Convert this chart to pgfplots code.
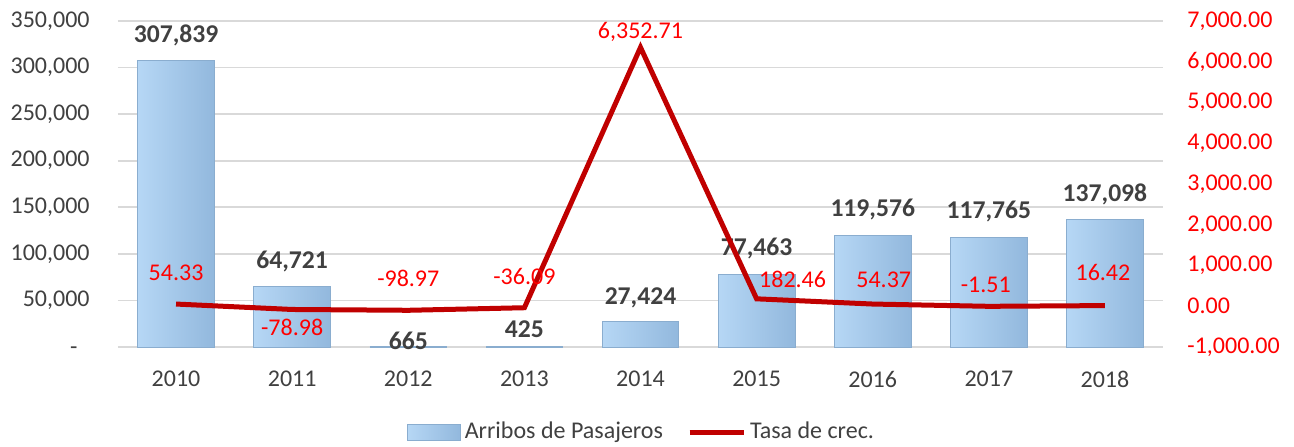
\documentclass[border=0pt]{standalone}
\usepackage{pgfplots}
\pgfplotsset{compat=1.18}
\usepackage{pgfplotstable}
\usepackage{fontspec}
\setmainfont{Carlito}
\definecolor{gridc}{HTML}{D9D9D9}
\definecolor{txt}{HTML}{404040}
\definecolor{linered}{HTML}{C00000}
\definecolor{labred}{HTML}{FF0000}
\definecolor{barL}{HTML}{B6D7F5}
\definecolor{barM}{HTML}{A9CDF0}
\definecolor{barR}{HTML}{92B8DD}
\definecolor{barE}{HTML}{8AADCF}
\pgfplotsset{/pgf/number format/assume math mode=true,
  mybar/.style={ybar, bar width=0.66, bar shift=0pt, left color=barL, middle color=barM, right color=barR,
    draw=barE, line width=0.4pt, forget plot,
    nodes near coords={\pgfmathprintnumber[fixed,precision=0,1000 sep={,}]{\pgfplotspointmeta}},
    every node near coord/.append style={anchor=center, yshift=#1, font=\fontsize{12.8pt}{15pt}\selectfont\bfseries, text=txt}},
}

\pgfplotstableread{
x val dx dy
0 54.33 0 15.5
1 -78.98 0 -8.75
2 -98.97 0 16
3 -36.09 0 15.5
4 6352.71 0 7.5
5 182.46 18 9.5
6 54.37 5.5 12
7 -1.51 -1.5 10.5
8 16.42 -1 16.5
}\rate

\begin{document}
\fontsize{12pt}{14.4pt}\selectfont
\begin{tikzpicture}
\path[use as bounding box] (-59pt,-49.5pt) rectangle (588pt,173.5pt);
\begin{axis}[
  at={(0,0)}, anchor=south west,
  scale only axis, width=522.5pt, height=163pt,
  xmin=-0.5, xmax=8.5, ymin=0, ymax=350000,
  scaled y ticks=false,
  axis line style={draw=none}, major tick length=0pt,
  ymajorgrids, grid style={gridc, line width=0.8pt},
  xtick={0,...,8}, xticklabels={2010,2011,2012,2013,2014,2015,2016,2017,2018},
  ytick={0,50000,100000,150000,200000,250000,300000,350000},
  yticklabels={-\phantom{0},{50,000},{100,000},{150,000},{200,000},{250,000},{300,000},{350,000}},
  yticklabel style={text=txt, xshift=-10pt},
  xticklabel style={text=txt, yshift=-8pt},
  clip=false,
]
\addplot[mybar=12.5pt] coordinates {(0,307839)};
\addplot[mybar=12.5pt] coordinates {(1,64721)};
\addplot[mybar=3pt] coordinates {(2,665)};
\addplot[mybar=8.5pt] coordinates {(3,425)};
\addplot[mybar=12pt] coordinates {(4,27424)};
\addplot[mybar=13pt] coordinates {(5,77463)};
\addplot[mybar=13pt] coordinates {(6,119576)};
\addplot[mybar=13pt] coordinates {(7,117765)};
\addplot[mybar=12.5pt] coordinates {(8,137098)};
\end{axis}
\begin{axis}[
  at={(0,0)}, anchor=south west,
  scale only axis, width=522.5pt, height=163pt,
  xmin=-0.5, xmax=8.5, ymin=-1000, ymax=7000,
  hide x axis, axis y line*=right,
  axis line style={draw=none}, major tick length=0pt,
  ytick={-1000,0,1000,2000,3000,4000,5000,6000,7000},
  yticklabel={\pgfmathprintnumber[fixed,fixed zerofill,precision=2,1000 sep={,}]{\tick}},
  yticklabel style={text=labred, xshift=8pt},
  clip=false,
  legend columns=2,
  legend style={at={(0.5,-0.261)}, anchor=center, xshift=1pt, draw=none, fill=none, text=txt,
    /tikz/every even column/.append style={column sep=10pt}},
]
\addlegendimage{legend image code/.code={\draw[left color=barL, middle color=barM, right color=barR, draw=barE] (0pt,-4pt) rectangle (26.5pt,4pt);}}
\addlegendentry{Arribos de Pasajeros}
\addplot[linered, line width=2.5pt, mark=none,
  legend image code/.code={\draw[linered, line width=2.5pt] (0pt,0pt) -- (27pt,0pt);},
  visualization depends on={\thisrow{dx} \as \dx},
  visualization depends on={\thisrow{dy} \as \dy},
  nodes near coords={\pgfmathprintnumber[fixed,fixed zerofill,precision=2,1000 sep={,}]{\pgfplotspointmeta}},
  every node near coord/.append style={anchor=center, xshift=\dx pt, yshift=\dy pt, text=labred}
] table[x=x, y=val] {\rate};
\addlegendentry{Tasa de crec.}
\end{axis}
\end{tikzpicture}
\end{document}
